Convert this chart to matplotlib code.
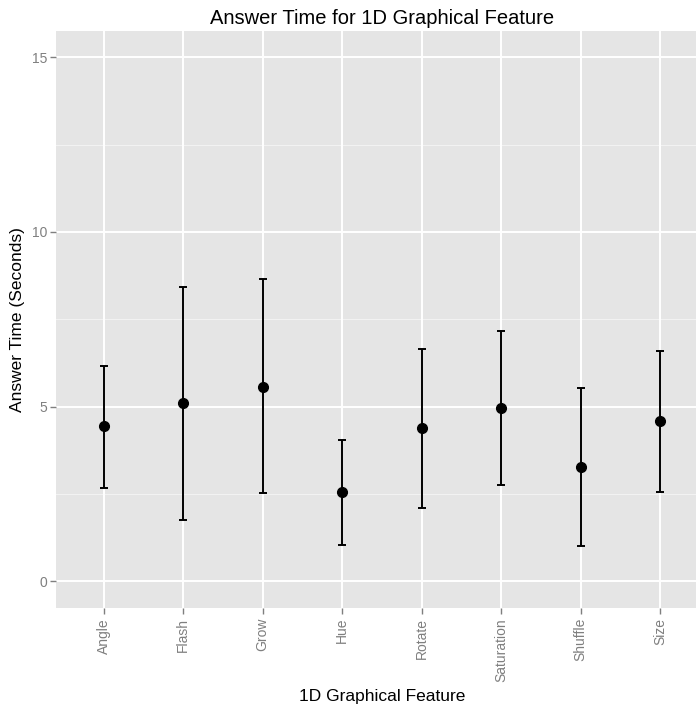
import matplotlib
matplotlib.use("Agg")
import matplotlib.pyplot as plt
import numpy as np

plt.rcParams['font.family'] = ['Liberation Sans', 'DejaVu Sans']

features = ["Angle", "Flash", "Grow", "Hue", "Rotate", "Saturation", "Shuffle", "Size"]
mean_time = [4.44, 5.10, 5.57, 2.55, 4.38, 4.95, 3.26, 4.58]
lower = [2.68, 1.76, 2.52, 1.04, 2.11, 2.77, 1.01, 2.57]
upper = [6.16, 8.43, 8.66, 4.05, 6.65, 7.15, 5.54, 6.59]
y_ticks = [0, 5, 10, 15]

W, H, DPI = 696, 708, 100
fig = plt.figure(figsize=(W / DPI, H / DPI), dpi=DPI)
left, right, top, bottom = 56, 696, 31, 607.5
ax = fig.add_axes([left / W, 1 - bottom / H, (right - left) / W, (bottom - top) / H])

ax.set_facecolor("#e5e5e5")
for s in ax.spines.values():
    s.set_visible(False)

x = np.arange(1, len(features) + 1)
step = 79.5  # pixels per category
ax.set_xlim(0.4, 0.4 + (right - left) / step)
ax.set_ylim(-0.75, 15.75)

# grid: minor lines lighter, major lines white
for v in [2.5, 7.5, 12.5]:
    ax.axhline(v, color="#f2f2f2", lw=0.8, zorder=0.5)
for v in y_ticks:
    ax.axhline(v, color="white", lw=1.4, zorder=0.6)
for v in x:
    ax.axvline(v, color="white", lw=1.4, zorder=0.6)

mean_arr = np.array(mean_time)
err = [mean_arr - np.array(lower), np.array(upper) - mean_arr]
ax.errorbar(x, mean_arr, yerr=err, fmt="none", ecolor="black", elinewidth=1.4,
            capsize=3, capthick=1.4, zorder=3)
ax.plot(x, mean_arr, "o", color="black", markersize=7, zorder=4)

ax.set_yticks(y_ticks)
ax.set_yticklabels([str(v) for v in y_ticks])
ax.set_xticks(x)
ax.set_xticklabels(features, rotation=90)
ax.tick_params(axis="both", colors="#7f7f7f", length=4.5, width=1.0, labelsize=10,
               labelcolor="#7f7f7f")
ax.tick_params(axis="y", pad=2)
ax.tick_params(axis="x", pad=3)

# panel centre for the (partly cropped) plotting area
panel_cx = left + (8.2 * step) / 2

fig.text(panel_cx / W, 1 - 696 / H, "1D Graphical Feature", ha="center",
         va="center", fontsize=12.5)
fig.text(18 / W, 1 - (top + bottom) / 2 / H, "Answer Time (Seconds)", ha="center",
         va="center", rotation=90, fontsize=12.5)
fig.text(panel_cx / W, 1 - 19 / H, "Answer Time for 1D Graphical Feature", ha="center",
         va="center", fontsize=14.5)

fig.savefig("out.png", dpi=DPI)
